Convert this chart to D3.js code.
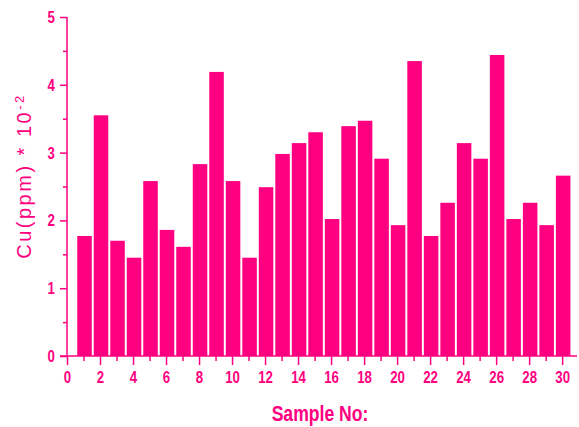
<!DOCTYPE html>
<html><head><meta charset="utf-8">
<script src="https://cdn.jsdelivr.net/npm/d3@7/dist/d3.min.js"></script>
<style>
body{margin:0;background:#fff;}
svg{display:block;}
</style></head>
<body><svg id="c" width="579" height="427"></svg>
<script>
const samples = d3.range(1, 31);
const cu = [1.77,3.55,1.70,1.45,2.58,1.86,1.61,2.83,4.19,2.58,
            1.45,2.49,2.98,3.14,3.30,2.02,3.39,3.47,2.91,1.93,
            4.35,1.77,2.26,3.14,2.91,4.44,2.02,2.26,1.93,2.66];
const xTicks = d3.range(0, 31, 2);
const yTicks = [0,1,2,3,4,5];

const pink = "#ff0080";
const svg = d3.select("#c");
const x = d3.scaleLinear().domain([0, 30.9]).range([67, 577]);
const y = d3.scaleLinear().domain([0, 5]).range([356, 17]);
const font = "'Liberation Sans',Arial,sans-serif";

// bars
svg.append("g").selectAll("rect").data(samples).join("rect")
  .attr("x", d => x(d - 0.44) + 1)
  .attr("width", d => x(d + 0.44) - x(d - 0.44))
  .attr("y", (d,i) => y(cu[i]))
  .attr("height", (d,i) => y(0) - y(cu[i]))
  .attr("fill", pink);

// y axis
const ya = svg.append("g").attr("transform", `translate(${x(0)},0)`);
ya.call(d3.axisLeft(y).tickValues(d3.range(0.5, 5, 1)).tickSize(4).tickFormat(""));
ya.call(g => g.append("g").attr("class", "maj")
  .call(d3.axisLeft(y).tickValues(yTicks).tickSize(7).tickPadding(5).tickFormat(d3.format("d"))));
ya.selectAll(".domain").remove();
ya.selectAll("line").attr("stroke", pink).attr("stroke-width", 1.5);
ya.selectAll(".maj text").attr("fill", pink).attr("font-family", font)
  .attr("font-weight", "bold").attr("font-size", 17)
  .attr("transform", "translate(-12,0) scale(0.78,1)").attr("x", 0);
ya.append("line").attr("y1", y(5)).attr("y2", y(0)).attr("stroke", pink).attr("stroke-width", 1.5);

// x axis
const xa = svg.append("g").attr("transform", `translate(0,${y(0)})`);
xa.call(d3.axisBottom(x).tickValues(d3.range(1, 31, 2)).tickSize(5).tickFormat(""));
xa.call(g => g.append("g").attr("class", "maj")
  .call(d3.axisBottom(x).tickValues(xTicks).tickSize(9).tickPadding(6)));
xa.selectAll(".domain").remove();
xa.selectAll("line").attr("stroke", pink).attr("stroke-width", 1.5);
xa.selectAll(".maj text").attr("fill", pink).attr("font-family", font)
  .attr("font-weight", "bold").attr("font-size", 17)
  .attr("transform", "scale(0.78,1)");
xa.append("line").attr("x1", 60).attr("x2", x(30.9)).attr("stroke", pink).attr("stroke-width", 1.5);

// x title
svg.append("text").attr("transform", "translate(320,421) scale(0.8,1)").attr("text-anchor", "middle")
  .attr("fill", pink).attr("font-family", font).attr("font-weight", "bold")
  .attr("font-size", 22).text("Sample No:");

// y title
const yt = svg.append("text").attr("transform", "translate(31,176) rotate(-90)")
  .attr("text-anchor", "middle").attr("fill", pink)
  .attr("font-family", font).attr("font-size", 20)
  .attr("letter-spacing", 2.5);
yt.append("tspan").text("Cu(ppm) * 10");
yt.append("tspan").attr("dy", -7).attr("font-size", 13).text("-2");
</script></body></html>
